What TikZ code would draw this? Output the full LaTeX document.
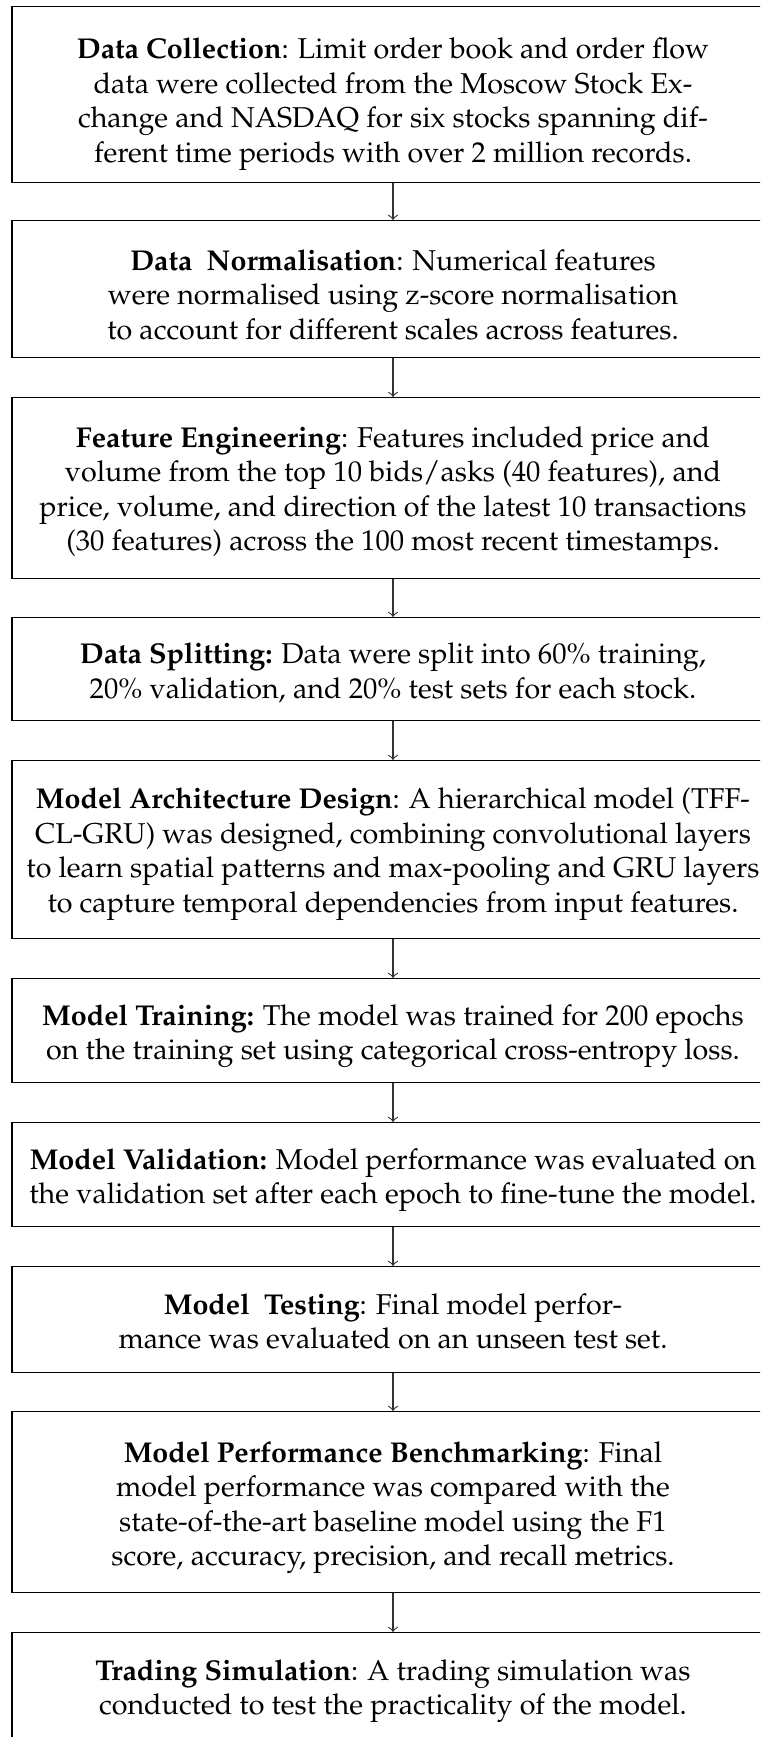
\documentclass[tikz,border=0pt]{standalone}
\usepackage[T1]{fontenc}
\usepackage{mathpazo}
\newdimen\pxu
\pxu=0.3488pt
\newcommand\boxlines[2]{\raisebox{-#1\pxu}[\height][\depth]{\begin{tabular}{@{}c@{}}#2\end{tabular}}}
\begin{document}
\begin{tikzpicture}[x=0.3488pt,y=-0.3488pt,
  box/.style={draw=black, line width=0.4pt, rectangle, anchor=north,
    minimum width=762\pxu, inner sep=0pt, align=center,
    font=\fontsize{10}{12}\selectfont},
  link/.style={draw=black!80, line width=0.4pt, ->}]
\useasboundingbox (0,0) rectangle (760,1737);
\clip (0,0) rectangle (760,1737);
\node[box, minimum height=176\pxu] (b1) at (393,6)
  {\boxlines{9}{\textbf{Data Collection}: Limit order book and order flow\\
   data were collected from the Moscow Stock Ex-\\
   change and NASDAQ for six stocks spanning dif-\\
   ferent time periods with over 2 million records.}};
\node[box, minimum height=137\pxu] (b2) at (393,220)
  {\boxlines{9}{\textbf{Data\ \ Normalisation}: Numerical features\\
   were normalised using z-score normalisation\\
   to account for different scales across features.}};
\node[box, minimum height=181\pxu] (b3) at (393,397)
  {\boxlines{4}{\textbf{Feature Engineering}: Features included price and\\
   volume from the top 10 bids/asks (40 features), and\\
   price, volume, and direction of the latest 10 transactions\\
   (30 features) across the 100 most recent timestamps.}};
\node[box, minimum height=103\pxu] (b4) at (393,617)
  {\boxlines{5}{\textbf{Data Splitting:} Data were split into 60\% training,\\
   20\% validation, and 20\% test sets for each stock.}};
\node[box, minimum height=178\pxu] (b5) at (393,760)
  {\boxlines{4}{\textbf{Model Architecture Design}: A hierarchical model (TFF-\\
   CL-GRU) was designed, combining convolutional layers\\
   to learn spatial patterns and max-pooling and GRU layers\\
   to capture temporal dependencies from input features.}};
\node[box, minimum height=104\pxu] (b6) at (393,978)
  {\boxlines{5}{\textbf{Model Training:} The model was trained for 200 epochs\\
   on the training set using categorical cross-entropy loss.}};
\node[box, minimum height=104\pxu] (b7) at (393,1122)
  {\boxlines{5}{\textbf{Model Validation:} Model performance was evaluated on\\
   the validation set after each epoch to fine-tune the model.}};
\node[box, minimum height=106\pxu] (b8) at (393,1266)
  {\boxlines{5}{\textbf{Model\ \ Testing}: Final model perfor-\\
   mance was evaluated on an unseen test set.}};
\node[box, minimum height=181\pxu] (b9) at (393,1411)
  {\boxlines{5}{\textbf{Model\ Performance\ Benchmarking}: Final\\
   model performance was compared with the\\
   state-of-the-art baseline model using the F1\\
   score, accuracy, precision, and recall metrics.}};
\node[box, minimum height=108\pxu] (b10) at (393,1632)
  {\boxlines{4}{\textbf{Trading Simulation}: A trading simulation was\\
   conducted to test the practicality of the model.}};
\foreach \a/\b in {b1/b2,b2/b3,b3/b4,b4/b5,b5/b6,b6/b7,b7/b8,b8/b9,b9/b10}
  \draw[link] (\a.south) -- (\b.north);
\end{tikzpicture}
\end{document}
